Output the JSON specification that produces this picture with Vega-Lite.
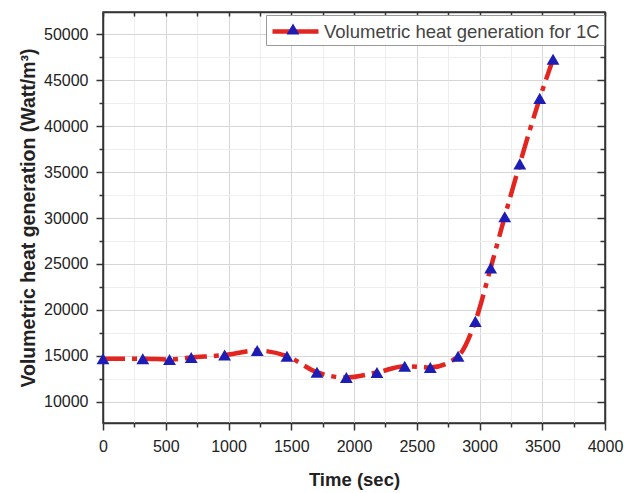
{
  "$schema": "https://vega.github.io/schema/vega-lite/v6.json",
  "width": 502,
  "height": 411,
  "autosize": "none",
  "padding": {"left": 103, "top": 12, "right": 19, "bottom": 70},
  "background": "white",
  "config": {"view": {"stroke": "#333", "strokeWidth": 1.5}, "font": "Liberation Sans"},
  "data": {"values": [
    {"time": 0, "q": 14670, "series": "Volumetric heat generation for 1C"},
    {"time": 317, "q": 14670, "series": "Volumetric heat generation for 1C"},
    {"time": 530, "q": 14600, "series": "Volumetric heat generation for 1C"},
    {"time": 703, "q": 14810, "series": "Volumetric heat generation for 1C"},
    {"time": 969, "q": 15080, "series": "Volumetric heat generation for 1C"},
    {"time": 1229, "q": 15570, "series": "Volumetric heat generation for 1C"},
    {"time": 1466, "q": 14950, "series": "Volumetric heat generation for 1C"},
    {"time": 1705, "q": 13210, "series": "Volumetric heat generation for 1C"},
    {"time": 1939, "q": 12630, "series": "Volumetric heat generation for 1C"},
    {"time": 2183, "q": 13180, "series": "Volumetric heat generation for 1C"},
    {"time": 2404, "q": 13860, "series": "Volumetric heat generation for 1C"},
    {"time": 2608, "q": 13720, "series": "Volumetric heat generation for 1C"},
    {"time": 2829, "q": 14950, "series": "Volumetric heat generation for 1C"},
    {"time": 2967, "q": 18750, "series": "Volumetric heat generation for 1C"},
    {"time": 3089, "q": 24560, "series": "Volumetric heat generation for 1C"},
    {"time": 3201, "q": 30140, "series": "Volumetric heat generation for 1C"},
    {"time": 3321, "q": 35900, "series": "Volumetric heat generation for 1C"},
    {"time": 3480, "q": 43030, "series": "Volumetric heat generation for 1C"},
    {"time": 3586, "q": 47290, "series": "Volumetric heat generation for 1C"}
  ]},
  "layer": [
    {
      "mark": {"type": "line", "interpolate": "monotone", "strokeWidth": 4.5, "strokeDash": [22, 7, 5, 7]},
      "encoding": {
        "x": {"field": "time", "type": "quantitative",
          "scale": {"domain": [0, 4000], "nice": false, "zero": false},
          "axis": {"orient": "bottom",
            "values": [0,250,500,750,1000,1250,1500,1750,2000,2250,2500,2750,3000,3250,3500,3750,4000],
            "format": "d",
            "labelExpr": "datum.value % 500 === 0 ? datum.label : ''",
            "title": "Time (sec)", "titleFontSize": 18.5, "titleFontWeight": "bold", "titleColor": "#222", "titlePadding": 16,
            "labelFontSize": 16, "labelColor": "#222", "labelPadding": 8, "labelFlush": false, "labelOverlap": false,
            "tickSize": {"condition": {"test": "datum.value % 500 === 0", "value": 7}, "value": 4},
            "tickColor": "#333", "tickWidth": 1.5, "domainColor": "#333", "domainWidth": 1.5,
            "grid": true,
            "gridColor": {"condition": {"test": "datum.value % 500 === 0", "value": "#d6d6d6"}, "value": "#eeeeee"},
            "gridWidth": 1}},
        "y": {"field": "q", "type": "quantitative",
          "scale": {"domain": [7680, 52430], "nice": false, "zero": false},
          "axis": {"orient": "left",
            "values": [10000,12500,15000,17500,20000,22500,25000,27500,30000,32500,35000,37500,40000,42500,45000,47500,50000],
            "format": "d",
            "labelExpr": "datum.value % 5000 === 0 ? datum.label : ''",
            "title": "Volumetric heat generation (Watt/m³)", "titleFontSize": 19.5, "titleFontWeight": "bold", "titleColor": "#222", "titlePadding": 5,
            "labelFontSize": 16, "labelColor": "#222", "labelPadding": 8, "labelFlush": false, "labelOverlap": false,
            "tickSize": {"condition": {"test": "datum.value % 5000 === 0", "value": 7}, "value": 4},
            "tickColor": "#333", "tickWidth": 1.5, "domainColor": "#333", "domainWidth": 1.5,
            "grid": true,
            "gridColor": {"condition": {"test": "datum.value % 5000 === 0", "value": "#d6d6d6"}, "value": "#eeeeee"},
            "gridWidth": 1}},
        "stroke": {"field": "series", "type": "nominal", "scale": {"range": ["#e3241f"]},
          "legend": {"orient": "none", "legendX": 163, "legendY": 3, "title": null,
            "symbolType": "M-1,0H3.6", "symbolSize": 400, "symbolStrokeWidth": 4.5, "symbolDash": [200, 1],
            "labelOffset": 29, "labelFontSize": 18.5, "labelColor": "#444", "labelFont": "Liberation Sans", "labelLimit": 400,
            "padding": 4, "strokeColor": "#999", "fillColor": "white", "zindex": 1}}
      }
    },
    {
      "mark": {"type": "point", "shape": "triangle-up", "filled": true, "size": 165, "opacity": 1},
      "encoding": {
        "x": {"field": "time", "type": "quantitative",
          "scale": {"domain": [0, 4000], "nice": false, "zero": false},
          "axis": {"orient": "top",
            "values": [0,250,500,750,1000,1250,1500,1750,2000,2250,2500,2750,3000,3250,3500,3750,4000],
            "labels": false, "title": null, "grid": false,
            "tickSize": -4, "tickColor": "#333", "tickWidth": 1.5, "domainColor": "#333", "domainWidth": 1.5}},
        "y": {"field": "q", "type": "quantitative",
          "scale": {"domain": [7680, 52430], "nice": false, "zero": false},
          "axis": {"orient": "right",
            "values": [10000,12500,15000,17500,20000,22500,25000,27500,30000,32500,35000,37500,40000,42500,45000,47500,50000],
            "labels": false, "title": null, "grid": false,
            "tickSize": {"condition": {"test": "datum.value % 5000 === 0", "value": -8}, "value": -5},
            "tickColor": "#333", "tickWidth": 1.5, "domainColor": "#333", "domainWidth": 1.5}},
        "fill": {"field": "series", "type": "nominal", "scale": {"range": ["#1d1db5"]},
          "legend": {"orient": "none", "legendX": 183.5, "legendY": 10.5, "title": null,
            "symbolType": "triangle-up", "symbolSize": 165, "symbolStrokeWidth": 0,
            "labelFontSize": 1, "labelColor": "transparent", "labelLimit": 1,
            "padding": 0, "zindex": 2}}
      }
    }
  ],
  "resolve": {"axis": {"x": "independent", "y": "independent"}}
}
